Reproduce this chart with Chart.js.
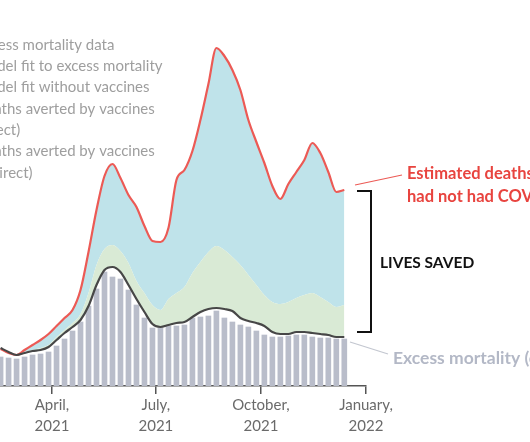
<!DOCTYPE html>
<html>
<head>
<meta charset="utf-8">
<script src="https://cdn.jsdelivr.net/npm/chart.js@4.4.1/dist/chart.umd.min.js"></script>
<style>
  html, body { margin: 0; padding: 0; background: #fff; overflow: hidden; }
  canvas { display: block; }
</style>
</head>
<body>
<canvas id="graficaMortalidad" width="530" height="442"></canvas>
<script>
// Semana 0 = día 45 de 2021 (mediados de febrero), una barra por semana
const firstWeekDay = 45;

// Mortalidad en exceso observada (barras grises)
const excessMortality = [29, 28, 27, 29, 31, 32, 34, 40, 47, 55, 64, 80, 97, 114, 109, 107, 96, 81, 68, 58, 58, 60,
  60, 61, 68, 69, 70, 75, 68, 64, 61, 59, 55, 51, 49, 49, 50, 51, 51, 49, 48, 48, 47, 47];
// Ajuste del modelo a la mortalidad en exceso (línea oscura)
const modelFit = [38, 34, 31, 33, 35, 36, 39, 46, 53, 59, 66, 80, 101, 116, 119, 114, 101, 87, 74, 62, 59, 61,
  63, 64, 69, 74, 77, 78, 77, 75, 68, 65, 63, 60, 54, 52, 52, 54, 54, 53, 52, 51, 49, 49];
// Techo de las muertes evitadas (indirectas) - zona verde
const indirectTop = [38, 34, 31, 34, 36, 38, 41, 49, 56, 63, 72, 93, 121, 137, 141, 135, 123, 105, 93, 81, 76, 87,
  93, 99, 113, 124, 134, 140, 136, 129, 121, 111, 101, 91, 84, 82, 84, 88, 91, 93, 89, 84, 79, 81];
// Ajuste del modelo sin vacunas (línea roja)
const withoutVaccines = [37, 33, 31, 36, 41, 46, 52, 60, 68, 76, 96, 134, 176, 210, 222, 208, 191, 179, 160, 145,
  144, 158, 206, 216, 235, 266, 302, 338, 330, 316, 296, 266, 244, 223, 200, 187, 202, 214, 226, 243, 233, 214,
  194, 196];

const tickDays = [90, 181, 273, 365];
const tickLabels = [["April,", "2021"], ["July,", "2021"], ["October,", "2021"], ["January,", "2022"]];

const legendLines = [
  "Excess mortality data",
  "Model fit to excess mortality",
  "Model fit without vaccines",
  "Deaths averted by vaccines",
  "(direct)",
  "Deaths averted by vaccines",
  "(indirect)",
];

const weekDays = excessMortality.map((_, i) => firstWeekDay + 7 * i);
const toPoints = (serie) => serie.map((v, i) => ({ x: weekDays[i], y: v }));

const anotaciones = {
  id: "anotaciones",
  afterDraw(chart) {
    const { ctx } = chart;
    ctx.save();
    ctx.textBaseline = "middle";
    ctx.textAlign = "left";

    // Leyenda (recortada a la izquierda)
    ctx.font = "15px Lato";
    ctx.fillStyle = "#9e9e9e";
    legendLines.forEach((t, i) => ctx.fillText(t, -25, 45 + i * 21.3));

    // Conector rojo + texto
    ctx.strokeStyle = "#ec5a55";
    ctx.lineWidth = 1.2;
    ctx.beginPath();
    ctx.moveTo(355, 185);
    ctx.lineTo(402, 175);
    ctx.stroke();
    ctx.font = "bold 16.5px Lato";
    ctx.fillStyle = "#e8443f";
    ctx.fillText("Estimated deaths if we", 407, 174);
    ctx.fillText("had not had COVID-19 vaccines", 407, 197);

    // Llave de vidas salvadas
    ctx.strokeStyle = "#111";
    ctx.lineWidth = 2;
    ctx.beginPath();
    ctx.moveTo(357, 191);
    ctx.lineTo(371, 191);
    ctx.lineTo(371, 332);
    ctx.lineTo(357, 332);
    ctx.stroke();
    ctx.font = "bold 15.5px Lato";
    ctx.fillStyle = "#111";
    ctx.fillText("LIVES SAVED", 380, 263);

    // Conector gris + texto
    ctx.strokeStyle = "#c3c7d0";
    ctx.lineWidth = 1.2;
    ctx.beginPath();
    ctx.moveTo(350, 342);
    ctx.lineTo(388, 354);
    ctx.stroke();
    ctx.font = "bold 17.5px Lato";
    ctx.fillStyle = "#b3b8c6";
    ctx.fillText("Excess mortality (observed)", 393, 358);
    ctx.restore();
  },
};

new Chart(document.getElementById("graficaMortalidad"), {
  type: "bar",
  data: {
    datasets: [
      {
        type: "line",
        label: "Model fit without vaccines",
        data: toPoints(withoutVaccines),
        borderColor: "#ec5a55",
        borderWidth: 2.2,
        backgroundColor: "#bfe3ea",
        fill: "+1",
        pointRadius: 0,
        cubicInterpolationMode: "monotone",
        order: 2,
      },
      {
        type: "line",
        label: "Deaths averted (indirect)",
        data: toPoints(indirectTop),
        borderWidth: 0,
        borderColor: "rgba(0,0,0,0)",
        backgroundColor: "#d9ead5",
        fill: "+1",
        pointRadius: 0,
        cubicInterpolationMode: "monotone",
        order: 1,
      },
      {
        type: "line",
        label: "Model fit to excess mortality",
        data: toPoints(modelFit),
        borderColor: "#474747",
        borderWidth: 2.2,
        fill: false,
        pointRadius: 0,
        cubicInterpolationMode: "monotone",
        order: 0,
      },
      {
        label: "Excess mortality data",
        data: toPoints(excessMortality),
        backgroundColor: "#b9bdca",
        barThickness: 5,
        order: 3,
      },
    ],
  },
  options: {
    responsive: false,
    animation: false,
    events: [],
    layout: { padding: { left: 0, right: 164, top: 0, bottom: 0 } },
    plugins: { legend: { display: false }, tooltip: { enabled: false } },
    scales: {
      x: {
        type: "linear",
        min: 44.5,
        max: 365,
        offset: false,
        afterBuildTicks: (scale) => {
          scale.ticks = tickDays.map((v) => ({ value: v }));
        },
        afterFit: (scale) => {
          scale.height = 56;
        },
        border: { display: true, color: "#555", width: 1.5 },
        grid: { drawOnChartArea: false, drawTicks: true, tickLength: 8, color: "#555", lineWidth: 1.5, offset: false },
        ticks: {
          autoSkip: false,
          maxRotation: 0,
          padding: 1,
          color: "#6a6a6a",
          font: { family: "Lato", size: 15, lineHeight: 1.4 },
          callback: (value, index) => tickLabels[index],
        },
      },
      y: { display: false, min: 0, max: 386 },
    },
  },
  plugins: [anotaciones],
});
</script>
</body>
</html>
